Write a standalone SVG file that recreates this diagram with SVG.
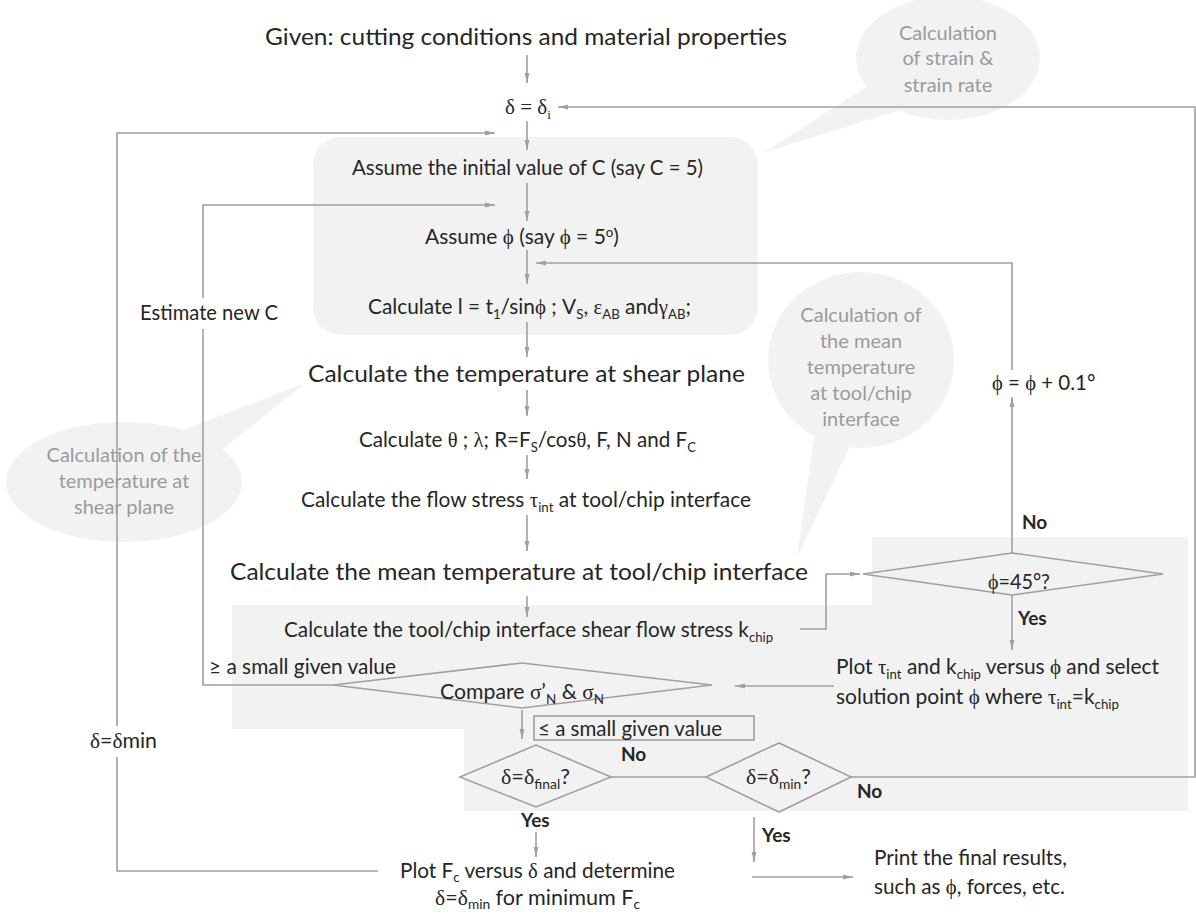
<svg xmlns="http://www.w3.org/2000/svg" width="1196" height="917" viewBox="0 0 1196 917">
<style>
.t{font-family:Lato,"Liberation Sans",sans-serif;font-size:20.5px;fill:#262626}
.b{font-family:Lato,"Liberation Sans",sans-serif;font-size:24px;fill:#262626}
.c{font-family:Lato,"Liberation Sans",sans-serif;font-size:20px;fill:#9b9b9b;text-anchor:middle}
.y{font-family:Lato,"Liberation Sans",sans-serif;font-size:19px;font-weight:bold;fill:#262626}
.g{font-family:"Liberation Serif","DejaVu Serif",serif}
.gk{font-family:"Liberation Serif","DejaVu Serif",serif;font-size:21px;fill:#262626}
.ln{fill:none;stroke:#a0a0a0;stroke-width:1.6}
.ar{marker-end:url(#ah)}
.sh{fill:#f2f2f2}
.dm{fill:none;stroke:#a0a0a0;stroke-width:1.6}
</style>
<defs>
<marker id="ah" viewBox="0 0 10 6" refX="10" refY="3" markerWidth="10" markerHeight="6" orient="auto" markerUnits="userSpaceOnUse">
<path d="M0,0.6 L10,3 L0,5.4 z" fill="#a0a0a0"/>
</marker>
</defs>

<g id="backgrounds">
<polygon class="sh" points="232,605 872,605 872,537 1188,537 1188,811 464,811 464,729 232,729"/>
<rect class="sh" x="313" y="137" width="445" height="198" rx="28"/>
</g>

<g id="callout-strain">
<ellipse class="sh" cx="948" cy="58" rx="92" ry="62"/>
<polygon class="sh" points="868,86 763,153 900,110"/>
<text class="c" x="948" y="40">Calculation</text>
<text class="c" x="948" y="65">of strain &amp;</text>
<text class="c" x="948" y="92">strain rate</text>
</g>

<g id="callout-mean-temp">
<ellipse class="sh" cx="861" cy="360" rx="93" ry="88"/>
<polygon class="sh" points="815,432 797,557 852,442"/>
<text class="c" x="861" y="322">Calculation of</text>
<text class="c" x="861" y="348">the mean</text>
<text class="c" x="861" y="374">temperature</text>
<text class="c" x="861" y="400">at tool/chip</text>
<text class="c" x="861" y="426">interface</text>
</g>

<g id="callout-shear-temp">
<ellipse class="sh" cx="124" cy="482" rx="118" ry="60"/>
<polygon class="sh" points="178,432 305,383 222,450"/>
<text class="c" x="124" y="462">Calculation of the</text>
<text class="c" x="124" y="488">temperature at</text>
<text class="c" x="124" y="514">shear plane</text>
</g>

<g id="connectors">
<path class="ln ar" d="M527,55 V83"/>
<path class="ln ar" d="M851,777 H1195 V107 H558"/>
<path class="ln ar" d="M527,121 V150"/>
<path class="ln" d="M378,871 H117 V757"/>
<path class="ln ar" d="M117,726 V133 H495"/>
<path class="ln ar" d="M527,183 V221"/>
<path class="ln" d="M333,685 H203 V329"/>
<path class="ln ar" d="M203,298 V205 H495"/>
<path class="ln ar" d="M527,250 V284"/>
<path class="ln ar" d="M1012,553 V397"/>
<path class="ln ar" d="M1012,370 V263 H536"/>
<path class="ln ar" d="M527,322 V357"/>
<path class="ln ar" d="M527,390 V416"/>
<path class="ln ar" d="M527,455 V479"/>
<path class="ln ar" d="M527,515 V551"/>
<path class="ln ar" d="M527,596 V617"/>
<path class="ln ar" d="M800,629 H826 V574 H860"/>
<path class="ln ar" d="M1012,595 V650"/>
<path class="ln ar" d="M834,686 H735"/>
<path class="ln ar" d="M522,710 V739"/>
<path class="ln" d="M611,777 H706"/>
<path class="ln ar" d="M536,832 V857"/>
<path class="ln ar" d="M754,817 V862"/>
<path class="ln ar" d="M752,877 H853"/>
</g>

<g id="n-given"><text class="b" x="265" y="45" textLength="522" lengthAdjust="spacingAndGlyphs">Given: cutting conditions and material properties</text></g>

<g id="n-delta-i"><text class="gk" x="505" y="114">δ = δ<tspan dy="5" font-size="13">i</tspan></text></g>

<g id="n-assume-c"><text class="t" x="352" y="175" textLength="351" lengthAdjust="spacingAndGlyphs">Assume the initial value of C (say C = 5)</text></g>

<g id="n-assume-phi"><text class="t" x="425" y="244" textLength="194" lengthAdjust="spacingAndGlyphs">Assume <tspan class="g">ϕ</tspan> (say <tspan class="g">ϕ</tspan> = 5<tspan dy="-7" font-size="13">o</tspan><tspan dy="7">)</tspan></text></g>

<g id="n-calc-l"><text class="t" x="368" y="314" textLength="323" lengthAdjust="spacingAndGlyphs">Calculate l = t<tspan dy="5" font-size="13">1</tspan><tspan dy="-5">/sin</tspan><tspan class="g">ϕ</tspan> ; V<tspan dy="5" font-size="13">S</tspan><tspan dy="-5">, </tspan><tspan class="g">ε</tspan><tspan dy="5" font-size="13">AB</tspan><tspan dy="-5"> and</tspan><tspan class="g">γ</tspan><tspan dy="5" font-size="13">AB</tspan><tspan dy="-5">;</tspan></text></g>

<g id="n-estimate-c"><text class="t" x="140" y="320" textLength="138" lengthAdjust="spacingAndGlyphs">Estimate new C</text></g>

<g id="n-temp-shear"><text class="b" x="308" y="382" textLength="437" lengthAdjust="spacingAndGlyphs">Calculate the temperature at shear plane</text></g>

<g id="n-calc-theta"><text class="t" x="359" y="447" textLength="337" lengthAdjust="spacingAndGlyphs">Calculate <tspan class="g">θ</tspan> ; <tspan class="g">λ</tspan>; R=F<tspan dy="5" font-size="13">S</tspan><tspan dy="-5">/cos</tspan><tspan class="g">θ</tspan>, F, N and F<tspan dy="5" font-size="13">C</tspan></text></g>

<g id="n-flow-stress"><text class="t" x="301" y="507" textLength="450" lengthAdjust="spacingAndGlyphs">Calculate the flow stress <tspan class="g">τ</tspan><tspan dy="5" font-size="13">int</tspan><tspan dy="-5"> at tool/chip interface</tspan></text></g>

<g id="n-mean-temp"><text class="b" x="230" y="580" textLength="578" lengthAdjust="spacingAndGlyphs">Calculate the mean temperature at tool/chip interface</text></g>

<g id="n-kchip"><text class="t" x="284" y="637" textLength="489" lengthAdjust="spacingAndGlyphs">Calculate the tool/chip interface shear flow stress k<tspan dy="5" font-size="13">chip</tspan></text></g>

<g id="n-phi45">
<polygon class="dm" points="863,574 1012,553 1163,574 1012,595"/>
<text class="t" x="988" y="589" textLength="62" lengthAdjust="spacingAndGlyphs"><tspan class="g">ϕ</tspan>=45°?</text>
<text class="y" x="1022" y="529">No</text>
<text class="y" x="1018" y="625">Yes</text>
</g>

<g id="n-phi-inc"><text class="t" x="992" y="390"><tspan class="g">ϕ</tspan> = <tspan class="g">ϕ</tspan> + 0.1°</text></g>

<g id="n-plot-tau">
<text class="t" x="836" y="674" textLength="323" lengthAdjust="spacingAndGlyphs">Plot <tspan class="g">τ</tspan><tspan dy="5" font-size="13">int</tspan><tspan dy="-5"> and k</tspan><tspan dy="5" font-size="13">chip</tspan><tspan dy="-5"> versus </tspan><tspan class="g">ϕ</tspan> and select</text>
<text class="t" x="836" y="704" textLength="283" lengthAdjust="spacingAndGlyphs">solution point <tspan class="g">ϕ</tspan> where <tspan class="g">τ</tspan><tspan dy="5" font-size="13">int</tspan><tspan dy="-5">=k</tspan><tspan dy="5" font-size="13">chip</tspan></text>
</g>

<g id="n-compare">
<polygon class="dm" points="333,685 522,663 712,685 522,708"/>
<text class="t" x="440" y="699" textLength="164" lengthAdjust="spacingAndGlyphs">Compare <tspan class="g">σ</tspan>’<tspan dy="5" font-size="13">N</tspan><tspan dy="-5"> &amp; </tspan><tspan class="g">σ</tspan><tspan dy="5" font-size="13">N</tspan></text>
<text class="t" x="209" y="674" textLength="187" lengthAdjust="spacingAndGlyphs">≥ a small given value</text>
</g>

<g id="n-le-small">
<rect x="534" y="716" width="220" height="24" fill="none" stroke="#a0a0a0" stroke-width="1.6"/>
<text class="t" x="538" y="736" textLength="184" lengthAdjust="spacingAndGlyphs">≤ a small given value</text>
</g>

<g id="n-delta-final">
<polygon class="dm" points="460,777 536,745 611,777 536,807"/>
<text class="t" x="501" y="784" textLength="69" lengthAdjust="spacingAndGlyphs"><tspan class="g">δ</tspan>=<tspan class="g">δ</tspan><tspan dy="5" font-size="13">final</tspan><tspan dy="-5">?</tspan></text>
<text class="y" x="621" y="761">No</text>
<text class="y" x="521" y="827">Yes</text>
</g>

<g id="n-delta-min">
<polygon class="dm" points="706,777 779,743 851,777 779,812"/>
<text class="t" x="746" y="784" textLength="65" lengthAdjust="spacingAndGlyphs"><tspan class="g">δ</tspan>=<tspan class="g">δ</tspan><tspan dy="5" font-size="13">min</tspan><tspan dy="-5">?</tspan></text>
<text class="y" x="857" y="798">No</text>
<text class="y" x="762" y="842">Yes</text>
</g>

<g id="n-plot-fc">
<text class="t" x="400" y="878" textLength="275" lengthAdjust="spacingAndGlyphs">Plot F<tspan dy="4" font-size="13">c</tspan><tspan dy="-4"> versus </tspan><tspan class="g">δ</tspan> and determine</text>
<text class="t" x="435" y="905" textLength="205" lengthAdjust="spacingAndGlyphs"><tspan class="g">δ</tspan>=<tspan class="g">δ</tspan><tspan dy="4" font-size="13">min</tspan><tspan dy="-4"> for minimum F</tspan><tspan dy="4" font-size="13">c</tspan></text>
</g>

<g id="n-delta-min-label"><text class="t" x="90" y="748" textLength="67" lengthAdjust="spacingAndGlyphs"><tspan class="g">δ</tspan>=<tspan class="g">δ</tspan>min</text></g>

<g id="n-print">
<text class="t" x="874" y="865" textLength="193" lengthAdjust="spacingAndGlyphs">Print the final results,</text>
<text class="t" x="874" y="894" textLength="191" lengthAdjust="spacingAndGlyphs">such as <tspan class="g">ϕ</tspan>, forces, etc.</text>
</g>
</svg>
